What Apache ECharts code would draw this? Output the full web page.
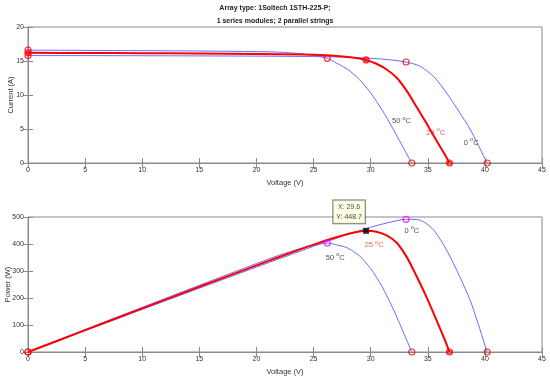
<!DOCTYPE html>
<html><head><meta charset="utf-8">
<script src="https://cdn.jsdelivr.net/npm/echarts@6/dist/echarts.min.js"></script>
<style>html,body{margin:0;padding:0;background:#fff}#c{width:550px;height:381px}</style>
</head><body><div id="c"></div>
<script>
// ---- data ----
const volt50 = [0, 5, 10, 15, 20, 22, 24, 25, 26.2, 27, 28, 29, 30, 31, 32, 33, 33.6];
const curr50 = [16.6, 16.56, 16.52, 16.47, 16.38, 16.3, 16.05, 15.8, 15.4, 14.7, 13.75, 12.3, 10.3, 7.8, 4.9, 1.8, 0];
const pow50  = [0, 82.8, 165.2, 247.1, 327.6, 358.6, 385.2, 395, 403.5, 396.9, 385, 356.7, 309, 241.8, 156.8, 59.4, 0];

const volt25 = [0, 5, 10, 15, 20, 24, 26, 27, 28, 29, 29.6, 30.5, 31.4, 32.3, 33.2, 34.0, 34.9, 35.8, 36.5, 36.9];
const curr25 = [16.2, 16.18, 16.15, 16.1, 16.04, 15.95, 15.85, 15.75, 15.6, 15.38, 15.16, 14.6, 13.75, 12.5, 10.5, 8.3, 5.8, 3.2, 1.2, 0];
const pow25  = [0, 80.9, 161.5, 241.5, 320.8, 382.8, 412.1, 425.3, 436.8, 446, 448.7, 445.3, 431.8, 403.8, 348.6, 282.2, 202.4, 114.6, 43.8, 0];

const volt0 = [0, 5, 10, 15, 20, 25, 28, 30, 31.5, 33.1, 34.3, 35.5, 36.65, 37.8, 38.7, 39.4, 40.0, 40.2];
const curr0 = [15.8, 15.79, 15.77, 15.75, 15.72, 15.65, 15.55, 15.4, 15.2, 14.85, 14.25, 12.75, 10.3, 7.38, 4.99, 2.69, 0.65, 0];
const pow0  = [0, 79, 157.7, 236.3, 314.4, 391.3, 435.4, 462, 478.8, 491.5, 488.8, 452.6, 377.5, 279, 193.1, 106, 26, 0];

// maximum power points [V, I, P]
const mpp50 = [26.2, 15.4, 403.5];
const mpp25 = [29.6, 15.16, 448.7];
const mpp0  = [33.1, 14.85, 491.5];

const xTicks = [0, 5, 10, 15, 20, 25, 30, 35, 40, 45];
const iTicks = [0, 5, 10, 15, 20];
const pTicks = [0, 100, 200, 300, 400, 500];

const titleLines = ['Array type: 1Soltech 1STH-225-P;', '1 series modules; 2 parallel strings'];

// ---- chart ----
const FONT = '"Liberation Sans", Arial, Helvetica, sans-serif';
const AX = '#8a8a8a';
const BLUE = '#6a6aff';
const RED = '#ff0000';

function zip(a, b) { return a.map((v, i) => [v, b[i]]); }

function gridAxes(gi) {
  const yt = gi === 0 ? iTicks : pTicks;
  const xs = [
    { gridIndex: gi, type: 'value', min: xTicks[0], max: xTicks[xTicks.length-1], interval: 5, position: 'bottom',
      axisLine: { lineStyle: { color: AX } }, axisTick: { inside: true, length: 5, lineStyle: { color: AX } },
      axisLabel: { color: '#333', fontSize: 7, fontFamily: FONT, margin: 4 }, splitLine: { show: false },
      name: 'Voltage (V)', nameLocation: 'middle', nameGap: 16, nameMoveOverlap: false,
      nameTextStyle: { color: '#333', fontSize: 7.5, fontFamily: FONT } },
    { gridIndex: gi, type: 'value', min: xTicks[0], max: xTicks[xTicks.length-1], interval: 5, position: 'top',
      axisLine: { lineStyle: { color: AX } }, axisTick: { inside: true, length: 5, lineStyle: { color: AX } },
      axisLabel: { show: false }, splitLine: { show: false } }
  ];
  const ys = [
    { gridIndex: gi, type: 'value', min: yt[0], max: yt[yt.length-1], interval: yt[1]-yt[0], position: 'left',
      axisLine: { show: true, lineStyle: { color: AX } }, axisTick: { show: true, inside: true, length: 5, lineStyle: { color: AX } },
      axisLabel: { color: '#333', fontSize: 7, fontFamily: FONT, margin: 4 }, splitLine: { show: false },
      name: gi === 0 ? 'Current (A)' : 'Power (W)', nameLocation: 'middle', nameGap: gi === 0 ? 13 : 16, nameMoveOverlap: false,
      nameTextStyle: { color: '#333', fontSize: 7.5, fontFamily: FONT } },
    { gridIndex: gi, type: 'value', min: yt[0], max: yt[yt.length-1], interval: yt[1]-yt[0], position: 'right',
      axisLine: { show: true, lineStyle: { color: AX } }, axisTick: { show: true, inside: true, length: 5, lineStyle: { color: AX } },
      axisLabel: { show: false }, splitLine: { show: false } }
  ];
  return { xs, ys };
}
const a0 = gridAxes(0), a1 = gridAxes(1);

function curve(gi, data, color, width, z) {
  return { type: 'line', xAxisIndex: gi*2, yAxisIndex: gi*2, data, showSymbol: false, symbol: 'none',
    smooth: 0.25, lineStyle: { color, width }, z, animation: false, silent: true };
}
function circles(gi, data, color, size, z) {
  return { type: 'scatter', xAxisIndex: gi*2, yAxisIndex: gi*2, data, symbol: 'circle', symbolSize: size,
    itemStyle: { color: 'rgba(0,0,0,0)', borderColor: color, borderWidth: 1.2 }, z: z || 5, animation: false, silent: true };
}
const rich = {
  b: { fontSize: 7.5, fontFamily: FONT, color: '#222', lineHeight: 10, verticalAlign: 'bottom' },
  s: { fontSize: 5.5, fontFamily: FONT, color: '#222', lineHeight: 10, verticalAlign: 'top' },
  rb: { fontSize: 7.5, fontFamily: FONT, color: '#ff3030', lineHeight: 10, verticalAlign: 'bottom' },
  rs: { fontSize: 5.5, fontFamily: FONT, color: '#ff3030', lineHeight: 10, verticalAlign: 'top' }
};
function note(gi, x, y, t, red) {
  const k = red ? 'r' : '';
  return { type: 'scatter', xAxisIndex: gi*2, yAxisIndex: gi*2, data: [[x, y]], symbolSize: 0, silent: true, animation: false, z: 8,
    label: { show: true, position: 'inside', formatter: '{' + k + 'b|' + t + ' }{' + k + 's|o}{' + k + 'b|C}', rich } };
}

const option = {
  animation: false,
  title: [
    { text: titleLines[0] + '\n' + titleLines[1], left: 270, top: -3, textAlign: 'center',
      textStyle: { fontSize: 7, fontWeight: 'bold', fontFamily: FONT, color: '#222', lineHeight: 13 } }
  ],
  grid: [
    { left: 28, top: 27, width: 514, height: 136, show: true, borderColor: AX, borderWidth: 1, containLabel: false, outerBoundsMode: 'none' },
    { left: 28, top: 217, width: 514, height: 135, show: true, borderColor: AX, borderWidth: 1, containLabel: false, outerBoundsMode: 'none' }
  ],
  xAxis: [...a0.xs, ...a1.xs],
  yAxis: [...a0.ys, ...a1.ys],
  series: [
    curve(0, zip(volt50, curr50), BLUE, 1, 2),
    curve(0, zip(volt0, curr0), BLUE, 1, 2),
    curve(0, zip(volt25, curr25), RED, 2, 3),
    circles(0, [[volt50[0], curr50[0]], [volt50[volt50.length-1], 0], [mpp50[0], mpp50[1]]], RED, 6),
    circles(0, [[volt0[0], curr0[0]], [volt0[volt0.length-1], 0], [mpp0[0], mpp0[1]]], RED, 6),
    circles(0, [[volt25[0], curr25[0]], [volt25[volt25.length-1], 0], [mpp25[0], mpp25[1]]], RED, 6),
    circles(0, [[volt25[0], curr25[0]], [volt25[volt25.length-1], 0], [mpp25[0], mpp25[1]]], RED, 4),
    note(0, 32.7, 6.3, '50', false),
    note(0, 35.7, 4.6, '25', true),
    note(0, 38.8, 3.1, '0', false),

    curve(1, zip(volt50, pow50), BLUE, 1, 2),
    curve(1, zip(volt0, pow0), BLUE, 1, 2),
    curve(1, zip(volt25, pow25), RED, 2, 3),
    circles(1, [[volt50[0], 0], [volt50[volt50.length-1], 0], [volt0[volt0.length-1], 0]], RED, 6),
    circles(1, [[volt25[0], 0], [volt25[volt25.length-1], 0]], RED, 6),
    circles(1, [[volt25[volt25.length-1], 0]], RED, 4),
    circles(1, [[mpp50[0], mpp50[2]], [mpp0[0], mpp0[2]]], '#ff00ff', 6),
    note(1, 26.9, 352, '50', false),
    note(1, 30.3, 400, '25', true),
    note(1, 33.6, 452, '0', false),
    { type: 'scatter', xAxisIndex: 2, yAxisIndex: 2, data: [[mpp25[0], mpp25[2]]], symbol: 'rect', symbolSize: 6,
      itemStyle: { color: '#000' }, z: 10, silent: true, animation: false,
      label: { show: true, position: 'inside', offset: [-17, -19], align: 'center', verticalAlign: 'middle',
        formatter: 'X: ' + mpp25[0] + '\nY: ' + mpp25[2], fontSize: 7, fontFamily: FONT, color: '#222', lineHeight: 10,
        backgroundColor: '#ffffe1', borderColor: '#444', borderWidth: 0.8, padding: [2, 3, 1, 3] } }
  ]
};
const chart = echarts.init(document.getElementById('c'), null, { renderer: 'canvas' });
chart.setOption(option);
</script>
</body></html>
